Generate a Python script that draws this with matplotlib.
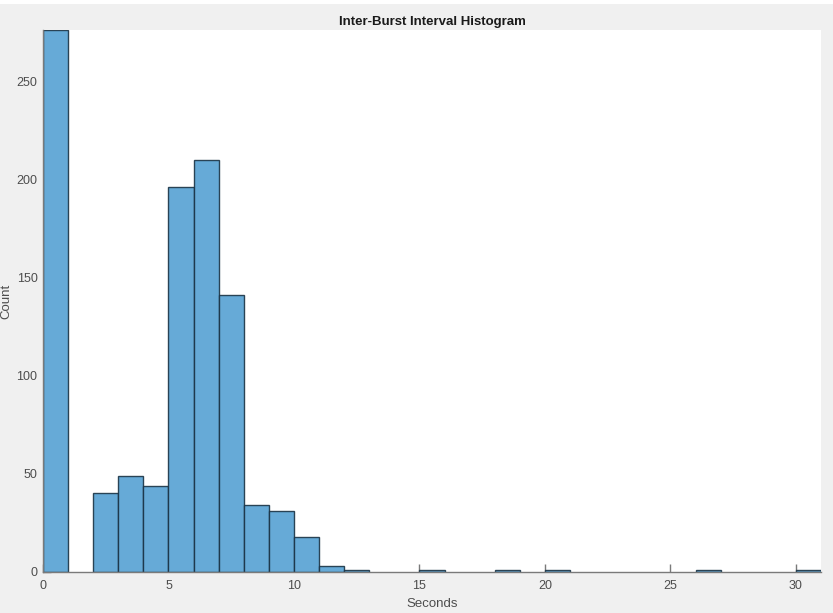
import numpy as np
import matplotlib
matplotlib.use("Agg")
import matplotlib.pyplot as plt
from matplotlib.patches import Rectangle

plt.rcParams['font.family'] = ['Liberation Sans', 'DejaVu Sans']

# Histogram of inter-burst intervals, 1-second bins from 0 to 31 s
bin_edges = np.arange(0, 32, 1)
counts = [276, 0, 40, 49, 44, 196, 210, 141, 34, 31, 18, 3, 1, 0, 0, 1,
          0, 0, 1, 0, 1, 0, 0, 0, 0, 0, 1, 0, 0, 0, 1]
x_ticks = [0, 5, 10, 15, 20, 25, 30]
y_ticks = [0, 50, 100, 150, 200, 250]

text_col = '#4d4d4d'
axis_col = '#7a7a7a'

fig = plt.figure(figsize=(8.33, 6.13), dpi=100, facecolor='#f0f0f0')
# thin white band along the top edge of the window
fig.patches.append(Rectangle((0, 1 - 4 / 613), 1, 4 / 613, transform=fig.transFigure,
                             facecolor='white', edgecolor='none', zorder=0))

ax = fig.add_axes([43 / 833, 41 / 613, (821 - 43) / 833, (572 - 30) / 613])
ax.set_facecolor('white')

counts_arr = np.asarray(counts)
left = bin_edges[:-1]
nz = counts_arr > 0
ax.bar(left[nz], counts_arr[nz], width=1.0, align='edge',
       color='#66aad7', edgecolor=(0.1, 0.2, 0.27, 0.9), linewidth=1.0, zorder=2)

ax.set_xlim(0, 31)
ax.set_ylim(0, 276)
ax.set_xticks(x_ticks)
ax.set_yticks(y_ticks)

for side in ('top', 'right'):
    ax.spines[side].set_visible(False)
for side in ('left', 'bottom'):
    ax.spines[side].set_color(axis_col)
    ax.spines[side].set_linewidth(1.0)
    ax.spines[side].set_zorder(3)

ax.tick_params(direction='in', length=6, width=1.0, color=axis_col,
               labelcolor=text_col, labelsize=9)
ax.tick_params(axis='x', pad=6)
ax.tick_params(axis='y', pad=4)

ax.set_title('Inter-Burst Interval Histogram', fontsize=9.5, fontweight='bold',
             color='#1a1a1a', pad=3.5)
ax.set_xlabel('Seconds', fontsize=9.5, color=text_col, labelpad=4)
ax.set_ylabel('Count', fontsize=9.5, color=text_col, labelpad=3)

fig.savefig('out.png', dpi=100, facecolor=fig.get_facecolor())
